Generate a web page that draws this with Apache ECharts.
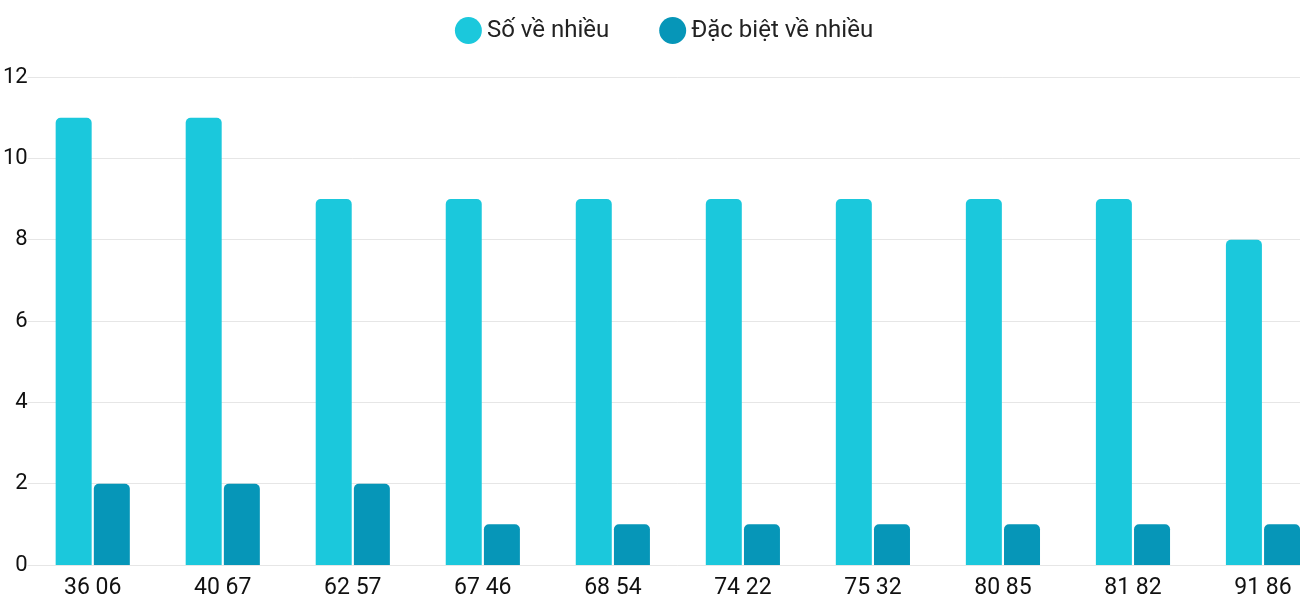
<!DOCTYPE html>
<html><head><meta charset="utf-8">
<script src="https://cdn.jsdelivr.net/npm/echarts@6/dist/echarts.min.js"></script>
<style>html,body{margin:0;background:#fff;overflow:hidden}#box{width:1328px;height:600px}</style>
</head><body><div id="box"></div>
<script>
var categories = ['36 06','40 67','62 57','67 46','68 54','74 22','75 32','80 85','81 82','91 86'];
var soVeNhieu = [11, 11, 9, 9, 9, 9, 9, 9, 9, 8];
var dacBiet = [2, 2, 2, 1, 1, 1, 1, 1, 1, 1];

var myChart = echarts.init(document.getElementById('box'));
myChart.setOption({
	textStyle: { fontFamily: 'Roboto' },
	legend: {
		top: 12, itemGap: 50, icon: 'circle', itemWidth: 27, itemHeight: 27,
		textStyle: { fontSize: 24, color: '#222', fontFamily: 'Roboto' },
		data: ['Số về nhiều', 'Đặc biệt về nhiều']
	},
	grid: { left: 20, right: 0, top: 77, bottom: 34 },
	xAxis: {
		type: 'category', data: categories,
		axisLine: { show: false }, axisTick: { show: false },
		axisLabel: { fontSize: 23, color: '#111', margin: 12 }
	},
	yAxis: {
		type: 'value', min: 0, max: 12, interval: 2,
		axisLabel: { fontSize: 22, color: '#111', margin: 0, align: 'right' },
		splitLine: { lineStyle: { color: '#e6e6e6' } }
	},
	series: [{
		name: 'Số về nhiều', type: 'bar', data: soVeNhieu,
		barWidth: 36, barGap: '6%',
		itemStyle: { color: '#1bc8dc', borderRadius: [5, 5, 0, 0] }
	}, {
		name: 'Đặc biệt về nhiều', type: 'bar', data: dacBiet,
		barWidth: 36,
		itemStyle: { color: '#0696b8', borderRadius: [5, 5, 0, 0] }
	}]
});
</script></body></html>
